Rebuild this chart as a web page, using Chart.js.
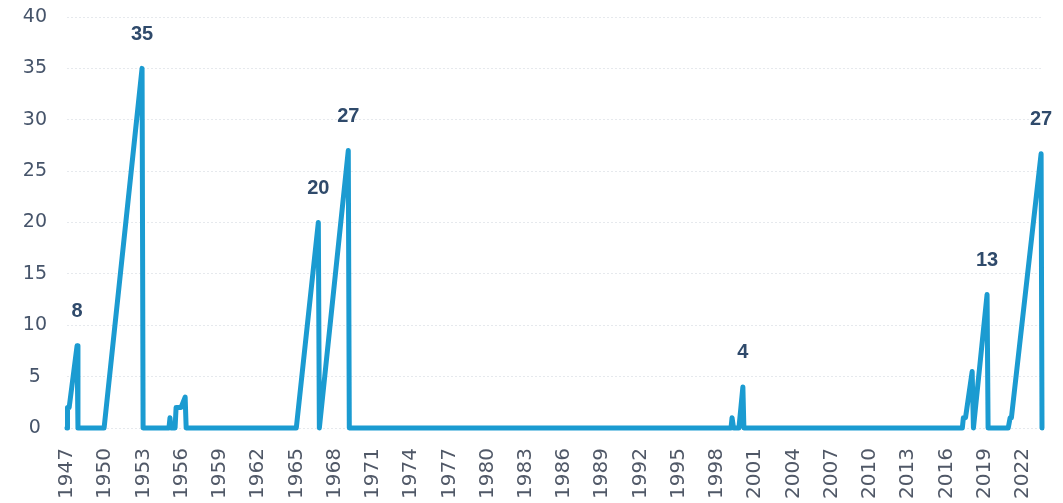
<!DOCTYPE html>
<html lang="en">
<head>
  <meta charset="UTF-8" />
  <title>Peaks chart</title>
  <script src="https://cdn.jsdelivr.net/npm/chart.js"></script>
  <style>
    body {
      margin: 0;
      background: #fff;
    }
    .chart-box {
      width: 1063px;
      height: 503px;
    }
  </style>
</head>
<body>

  <div class="chart-box">
    <canvas id="chart"></canvas>
  </div>

  <script>
    // vertices of the line (year, value)
    const years = [
      1947.00, 1947.04, 1947.17, 1947.79, 1947.86,
      1949.91, 1952.89, 1952.97,
      1955.00, 1955.08, 1955.16,
      1955.48, 1955.56, 1955.95, 1956.27, 1956.35,
      1964.99, 1966.72, 1966.80, 1969.07, 1969.15,
      1999.10, 1999.18, 1999.30, 1999.72, 2000.03, 2000.11,
      2017.25, 2017.33, 2017.50, 2018.02, 2018.12, 2019.19, 2019.27,
      2020.85, 2021.00, 2021.10, 2023.43, 2023.50
    ];
    const values = [
      0, 2, 2, 8, 0,
      0, 35, 0,
      0, 1, 0,
      0, 2, 2, 3, 0,
      0, 20, 0, 27, 0,
      0, 1, 0, 0, 4, 0,
      0, 1, 1, 5.5, 0, 13, 0,
      0, 1, 1, 26.7, 0
    ];

    // labels drawn above the peaks
    const peakYears  = [1947.79, 1952.89, 1966.72, 1969.07, 2000.03, 2019.19, 2023.43];
    const peakValues = [8, 35, 20, 27, 4, 13, 26.7];
    const peakTexts  = ["8", "35", "20", "27", "4", "13", "27"];

    const yTicks = { min: 0, max: 40, step: 5 };
    const xTicks = { min: 1947, max: 2023.5, step: 3 };

    const points = years.map((yr, i) => ({ x: yr, y: values[i] }));

    const peakLabels = {
      id: 'peakLabels',
      afterDatasetsDraw(chart) {
        const ctx = chart.ctx;
        const xs = chart.scales.x, ys = chart.scales.y;
        ctx.save();
        ctx.font = 'bold 20px "Liberation Sans", Arial, sans-serif';
        ctx.fillStyle = '#2f4a6b';
        ctx.textAlign = 'center';
        ctx.textBaseline = 'middle';
        peakYears.forEach((yr, i) => {
          ctx.fillText(peakTexts[i], xs.getPixelForValue(yr), ys.getPixelForValue(peakValues[i]) - 34);
        });
        ctx.restore();
      }
    };

    new Chart(document.getElementById('chart'), {
      type: 'line',
      data: {
        datasets: [{
          data: points,
          borderColor: '#1b9bd1',
          borderWidth: 5,
          borderJoinStyle: 'round',
          borderCapStyle: 'round',
          pointRadius: 0,
          tension: 0,
          fill: false
        }]
      },
      options: {
        responsive: true,
        maintainAspectRatio: false,
        animation: false,
        clip: false,
        layout: { padding: { top: 17, right: 21, left: 5, bottom: 0 } },
        plugins: {
          legend: { display: false },
          tooltip: { enabled: false }
        },
        scales: {
          x: {
            type: 'linear',
            min: xTicks.min,
            max: xTicks.max,
            grid: { display: false },
            border: { display: false },
            ticks: {
              stepSize: xTicks.step,
              includeBounds: false,
              autoSkip: false,
              minRotation: 90,
              maxRotation: 90,
              padding: 12,
              color: '#505867',
              font: { family: '"DejaVu Sans", sans-serif', size: 20 },
              callback: v => String(v)
            },
            afterFit: axis => { axis.height = 75; }
          },
          y: {
            min: yTicks.min,
            max: yTicks.max,
            grid: { color: '#e6e9ed', lineWidth: 1, drawTicks: false },
            border: { display: false, dash: [2, 2] },
            ticks: {
              stepSize: yTicks.step,
              padding: 20,
              crossAlign: 'center',
              color: '#46546a',
              font: { family: '"DejaVu Sans", sans-serif', size: 19 }
            },
            afterFit: axis => {
              axis.width = 62;
              axis.paddingTop = 10;
              axis.paddingBottom = 10;
            }
          }
        }
      },
      plugins: [peakLabels]
    });
  </script>

</body>
</html>
